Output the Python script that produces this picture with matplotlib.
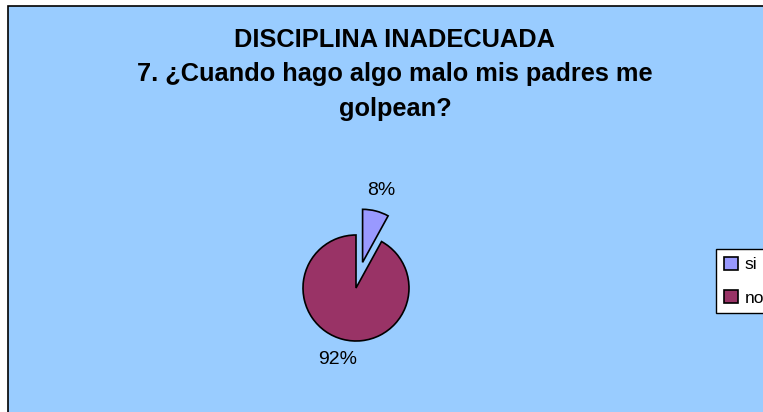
import matplotlib
matplotlib.use("Agg")
import matplotlib.pyplot as plt
from matplotlib.patches import Rectangle

plt.rcParams['font.family'] = ['Liberation Sans', 'DejaVu Sans']

categories = ["si", "no"]
values = [8, 92]
colors = ["#9999FF", "#993366"]
title_lines = ["DISCIPLINA INADECUADA", "7. ¿Cuando hago algo malo mis padres me", "golpean?"]

W, H = 763, 412
fig = plt.figure(figsize=(W / 100, H / 100), dpi=100)
fig.patch.set_facecolor("white")

bg = Rectangle((8 / W, -0.1), 1.2, 1 - 6 / H + 0.1, transform=fig.transFigure,
               facecolor="#99CCFF", edgecolor="black", linewidth=1.2, zorder=0)
fig.add_artist(bg)

# pie axes: unit radius = 53 px, centred at pixel (356, 288)
R = 53
L = 2.0
cx, cy = 356, 288
half = L * R
ax = fig.add_axes([(cx - half) / W, (H - cy - half) / H, 2 * half / W, 2 * half / H])
ax.patch.set_alpha(0)

wedges, texts, autotexts = ax.pie(
    values, colors=colors, startangle=90, counterclock=False,
    explode=[0.5, 0], radius=1,
    autopct="%1.0f%%", pctdistance=1.4,
    wedgeprops=dict(edgecolor="black", linewidth=1.2),
    textprops=dict(fontsize=14, color="black"))
ax.set_xlim(-L, L)
ax.set_ylim(-L, L)
ax.set_aspect("equal")
ax.axis("off")

for i, ln in enumerate(title_lines):
    fig.text(395 / W, 1 - (40 + 34.5 * i) / H, ln, ha="center", va="center",
             fontsize=18.3, fontweight="bold")

leg = fig.legend(wedges, categories, loc="upper left",
                 bbox_to_anchor=(716 / W, 1 - 249 / H), fontsize=12.5,
                 frameon=True, fancybox=False, shadow=False, framealpha=1,
                 handlelength=0.8, handleheight=0.8, handletextpad=0.4,
                 labelspacing=1.0, borderpad=0.45, borderaxespad=0)
leg.get_frame().set_edgecolor("black")
leg.get_frame().set_linewidth(1.0)
leg.get_frame().set_facecolor("white")

fig.savefig("out.png", dpi=100)
